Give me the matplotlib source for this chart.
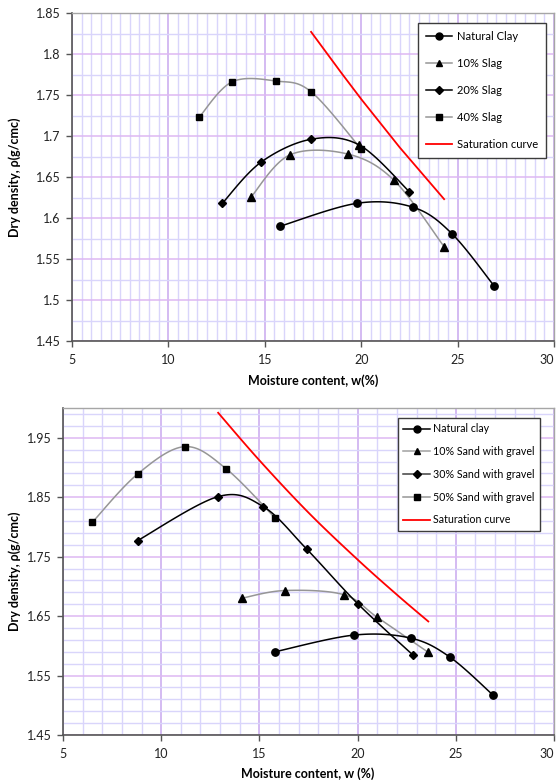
import numpy as np
import matplotlib.pyplot as plt
from matplotlib.lines import Line2D

plt.rcParams['font.family'] = ['Lato', 'DejaVu Sans']

# top chart - natural clay mixed with slag
clay_w = [15.8, 19.8, 22.7, 24.7, 26.9]
clay_rho = [1.590, 1.618, 1.613, 1.581, 1.517]

slag10_w = [14.3, 16.3, 19.3, 21.7, 24.3]
slag10_rho = [1.626, 1.677, 1.678, 1.646, 1.565]
# stray triangle sitting on the 20% curve
slag10_extra_w = [19.9]
slag10_extra_rho = [1.689]

slag20_w = [12.8, 14.8, 17.4, 19.9, 22.5]
slag20_rho = [1.618, 1.668, 1.696, 1.689, 1.632]

slag40_w = [11.6, 13.3, 15.6, 17.4, 20.0]
slag40_rho = [1.723, 1.766, 1.767, 1.754, 1.684]

sat1_w = [17.4, 19.0, 20.0, 22.0, 24.3]
sat1_rho = [1.827, 1.776, 1.745, 1.686, 1.623]

# bottom chart - natural clay mixed with sand & gravel
sand10_w = [14.1, 16.3, 19.3, 21.0, 23.6]
sand10_rho = [1.680, 1.693, 1.686, 1.648, 1.589]

sand30_w = [8.8, 12.9, 15.2, 17.4, 20.0, 22.8]
sand30_rho = [1.777, 1.851, 1.834, 1.763, 1.671, 1.585]

sand50_w = [6.5, 8.8, 11.2, 13.3, 15.8]
sand50_rho = [1.808, 1.889, 1.935, 1.898, 1.815]

sat2_w = [12.9, 15.0, 17.5, 20.0, 22.0, 23.6]
sat2_rho = [1.992, 1.912, 1.824, 1.745, 1.686, 1.641]

top_labels = ['Natural Clay', '10% Slag', '20% Slag', '40% Slag', 'Saturation curve']
bot_labels = ['Natural clay', '10% Sand with gravel', '30% Sand with gravel',
              '50% Sand with gravel', 'Saturation curve']

W, H = 559, 780
BLACK = '#000000'
GRAY = '#969696'
RED = '#ff0000'


def smooth(x, y, n=24):
    # excel style smoothed line (catmull-rom as bezier)
    x = np.asarray(x, float)
    y = np.asarray(y, float)
    px = np.r_[x[0], x, x[-1]]
    py = np.r_[y[0], y, y[-1]]
    t = np.linspace(0, 1, n)[1:, None]
    out = [np.array([[x[0], y[0]]])]
    for i in range(1, len(px) - 2):
        p0 = np.array([px[i - 1], py[i - 1]])
        p1 = np.array([px[i], py[i]])
        p2 = np.array([px[i + 1], py[i + 1]])
        p3 = np.array([px[i + 2], py[i + 2]])
        c1 = p1 + (p2 - p0) / 6
        c2 = p2 - (p3 - p1) / 6
        pts = ((1 - t) ** 3) * p1 + 3 * ((1 - t) ** 2) * t * c1 + 3 * (1 - t) * t ** 2 * c2 + t ** 3 * p2
        out.append(pts)
    pts = np.vstack(out)
    return pts[:, 0], pts[:, 1]


def series(ax, w, rho, color, marker, ms, markevery=None):
    sx, sy = smooth(w, rho)
    ax.plot(sx, sy, color=color, lw=1.1, zorder=3)
    if marker:
        idx = range(len(w)) if markevery is None else markevery
        ax.plot([w[i] for i in idx], [rho[i] for i in idx], ls='none', marker=marker,
                ms=ms, color='black', zorder=4)


def setup(ax, ymin, ymax, ymaj, ymin_step, xmin_step):
    ax.set_xlim(5, 30)
    ax.set_ylim(ymin, ymax)
    ax.set_xticks(np.arange(5, 30.1, 5))
    ax.set_xticklabels([f'{v:g}' for v in np.arange(5, 30.1, 5)])
    # last label sits on the figure edge, keep it inside
    ax.get_xticklabels()[-1].set_horizontalalignment('right')
    yt = np.arange(ymin, ymax + 1e-6, ymaj)
    ax.set_yticks(yt)
    ax.set_yticklabels([f'{round(v, 3):g}' for v in yt])
    ax.set_xticks(np.arange(5, 30.01, xmin_step), minor=True)
    ax.set_yticks(np.arange(ymin, ymax + 1e-6, ymin_step), minor=True)
    ax.grid(which='minor', color='#d9d5fb', lw=1.0, zorder=0)
    ax.grid(which='major', axis='x', color='#c9a8ef', lw=1.1, zorder=1)
    ax.grid(which='major', axis='y', color='#deb8f3', lw=1.1, zorder=1)
    ax.tick_params(which='minor', length=0)
    ax.tick_params(which='major', direction='out', length=4, width=1, color='#555555',
                   labelsize=9, labelcolor='#222222')
    ax.tick_params(axis='x', pad=5)
    ax.tick_params(axis='y', pad=4)
    for s in ['left', 'bottom']:
        ax.spines[s].set_color('#555555')
        ax.spines[s].set_linewidth(1.2)
    for s in ['top', 'right']:
        ax.spines[s].set_color('#a6a6a6')
        ax.spines[s].set_linewidth(1.0)
    ax.set_axisbelow(True)


def handle(color, marker, ms):
    return Line2D([], [], color=color, lw=1.1, marker=marker, ms=ms,
                  markerfacecolor='black', markeredgecolor='black')


fig = plt.figure(figsize=(W / 100, H / 100), dpi=100)

# ---------------- top chart ----------------
ax1 = fig.add_axes([72 / W, 1 - 341 / H, 482 / W, 328 / H])
setup(ax1, 1.45, 1.85, 0.05, 0.025, 0.5)
series(ax1, slag40_w, slag40_rho, GRAY, 's', 5)
series(ax1, slag10_w, slag10_rho, GRAY, '^', 5.5)
series(ax1, slag20_w, slag20_rho, BLACK, 'D', 4.3, markevery=[0, 1, 2, 4])
ax1.plot(slag10_extra_w, slag10_extra_rho, ls='none', marker='^', ms=5.5, color='black', zorder=4)
series(ax1, clay_w, clay_rho, BLACK, 'o', 5.3)
ax1.plot(sat1_w, sat1_rho, color=RED, lw=1.3, zorder=3)

h1 = [handle(BLACK, 'o', 5), handle(GRAY, '^', 5), handle(BLACK, 'D', 4),
      handle(GRAY, 's', 4.5), Line2D([], [], color=RED, lw=1.3)]
leg1 = ax1.legend(h1, top_labels, loc='upper left', bbox_to_anchor=(418 / W, 1 - 23 / H),
                  bbox_transform=fig.transFigure, borderaxespad=0, fontsize=8,
                  handlelength=2.4, handletextpad=0.4, labelspacing=1.45, borderpad=0.7,
                  fancybox=False, framealpha=1, edgecolor='#3c3c3c', numpoints=1)
leg1.get_frame().set_linewidth(1.0)

fig.text(15 / W, 1 - 177 / H, 'Dry density, ρ(g/cmc)', rotation=90, ha='center', va='center',
         fontsize=9, fontweight='bold')
fig.text(313 / W, 1 - 381 / H, 'Moisture content, w(%)', ha='center', va='center',
         fontsize=9, fontweight='bold')

# ---------------- bottom chart ----------------
ax2 = fig.add_axes([63 / W, 1 - 735 / H, 491 / W, 327 / H])
setup(ax2, 1.45, 2.0, 0.1, 0.02, 1)
ax2.set_yticks(np.arange(1.45, 1.96, 0.1))
ax2.set_yticklabels([f'{round(v, 3):g}' for v in np.arange(1.45, 1.96, 0.1)])
series(ax2, sand50_w, sand50_rho, GRAY, 's', 5)
series(ax2, sand10_w, sand10_rho, GRAY, '^', 5.5)
series(ax2, sand30_w, sand30_rho, BLACK, 'D', 4.3)
series(ax2, clay_w, clay_rho, BLACK, 'o', 5.3)
sx, sy = smooth(sat2_w, sat2_rho)
ax2.plot(sx, sy, color=RED, lw=1.3, zorder=3)

h2 = [handle(BLACK, 'o', 5), handle('#a0a0a0', '^', 5), handle('#404040', 'D', 4),
      handle(GRAY, 's', 4.5), Line2D([], [], color=RED, lw=1.3)]
leg2 = ax2.legend(h2, bot_labels, loc='upper left', bbox_to_anchor=(398 / W, 1 - 418 / H),
                  bbox_transform=fig.transFigure, borderaxespad=0, fontsize=7.7,
                  handlelength=2.5, handletextpad=0.25, labelspacing=1.1, borderpad=0.5,
                  fancybox=False, framealpha=1, edgecolor='#3c3c3c', numpoints=1)
leg2.get_frame().set_linewidth(1.0)

fig.text(15 / W, 1 - 571 / H, 'Dry density, ρ(g/cmc)', rotation=90, ha='center', va='center',
         fontsize=9, fontweight='bold')
fig.text(308 / W, 1 - 774 / H, 'Moisture content, w (%)', ha='center', va='center',
         fontsize=9, fontweight='bold')

fig.savefig('out.png', dpi=100)
